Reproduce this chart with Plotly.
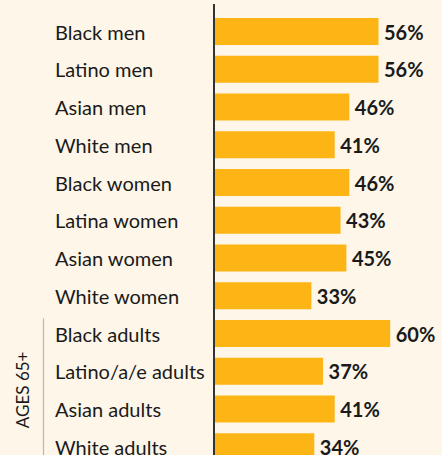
import plotly.graph_objects as go

categories = ["Black men", "Latino men", "Asian men", "White men",
              "Black women", "Latina women", "Asian women", "White women",
              "Black adults", "Latino/a/e adults", "Asian adults", "White adults"]
values = [56, 56, 46, 41, 46, 43, 45, 33, 60, 37, 41, 34]
group_label = "AGES 65+"
group_members = ["Black adults", "Latino/a/e adults", "Asian adults", "White adults"]

BG = "#FDF6E9"
BAR = "#FDB515"
INK = "#1A1A1A"
FONT = "Lato"

W, H = 442, 455
ML, MT = 215, 4
plot_w = W - ML

fig = go.Figure()
fig.add_trace(go.Bar(
    x=values, y=categories, orientation="h",
    marker=dict(color=BAR, line=dict(width=0)),
    text=[f"\u2009{v}%" for v in values],
    textposition="outside",
    textfont=dict(family=FONT, size=20, color=INK, weight="bold"),
    constraintext="none",
    cliponaxis=False,
    hoverinfo="skip",
))

# category labels, left aligned
for c in categories:
    fig.add_annotation(
        x=(52.5 - ML) / plot_w, xref="paper", y=c, yref="y",
        text=c, showarrow=False, xanchor="left", yanchor="middle",
        font=dict(family=FONT, size=20, color=INK),
    )

# group bracket
i0 = categories.index(group_members[0])
i1 = categories.index(group_members[-1])
fig.add_shape(type="line", xref="paper", yref="y",
              x0=(43.5 - ML) / plot_w, x1=(43.5 - ML) / plot_w,
              y0=i0 - 0.4, y1=i1 + 0.6,
              line=dict(color="#BDB8AE", width=1.2))
fig.add_annotation(
    x=(22 - ML) / plot_w, xref="paper", y=(i0 + i1) / 2, yref="y",
    text=group_label, textangle=-90, showarrow=False,
    xanchor="center", yanchor="middle",
    font=dict(family=FONT, size=17, color=INK),
)

pitch = 37.75
first_center = 31.5
top = -(first_center - MT) / pitch
bottom = top + (H - MT) / pitch

fig.update_layout(
    width=W, height=H,
    margin=dict(l=ML, r=0, t=MT, b=0, pad=0),
    paper_bgcolor=BG, plot_bgcolor=BG,
    bargap=0.285,
    showlegend=False,
    xaxis=dict(range=[0, plot_w / 2.92], visible=False, fixedrange=True),
    yaxis=dict(range=[bottom, top], showticklabels=False, ticks="",
               showgrid=False, zeroline=False,
               showline=True, linecolor="#333333", linewidth=1.5,
               categoryorder="array", categoryarray=categories),
)

fig.write_html(
    "out.html",
    config={"displayModeBar": False},
    post_script="document.body.style.margin='0';document.body.style.overflow='hidden';document.body.style.background='" + BG + "';",
)
